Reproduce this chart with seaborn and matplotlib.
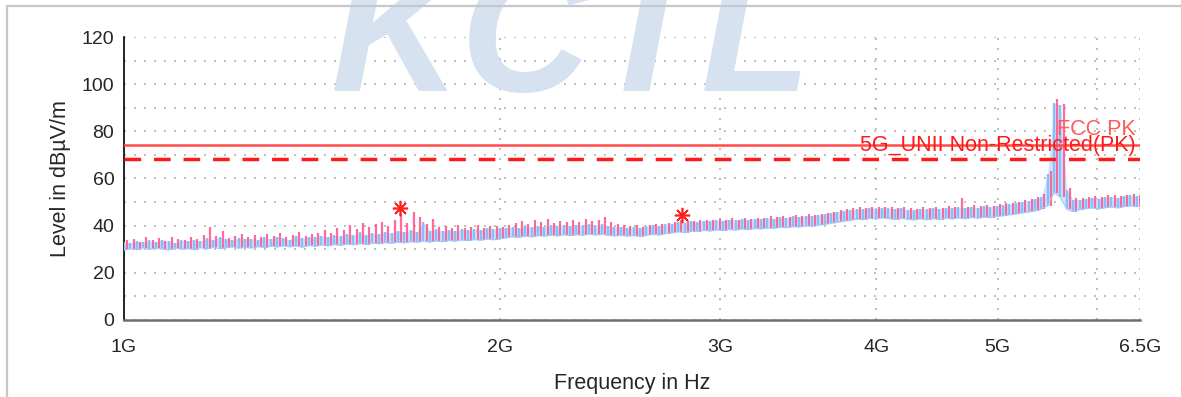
import numpy as np
import matplotlib
matplotlib.use("Agg")
import matplotlib.pyplot as plt
import seaborn as sns
from matplotlib.lines import Line2D

# ----------------------------------------
# data (dBuV/m), 160 bins on a log sweep 1G..6.5G
# ----------------------------------------
f_start = 1.0e9
f_stop = 6.5e9

avg_lo = [
    29.5, 30.2, 29.8, 30.6, 29.9, 30.4, 30.1, 29.7, 30.5, 30.0,
    30.3, 29.8, 30.7, 30.1, 30.9, 30.2, 30.6, 31.0, 30.4, 30.8,
    30.5, 31.1, 30.7, 31.3, 30.9, 31.5, 31.0, 31.4, 30.8, 31.6,
    31.2, 31.8, 31.4, 32.0, 31.6, 32.2, 31.9, 32.4, 32.0, 32.6,
    32.3, 32.8, 32.5, 33.0, 32.7, 33.2, 32.9, 33.4, 33.0, 33.5,
    33.2, 33.7, 33.4, 33.9, 33.6, 34.1, 33.8, 34.3, 34.0, 34.5,
    34.8, 35.3, 35.0, 35.6, 35.2, 35.8, 35.5, 36.0, 35.6, 36.1,
    35.8, 36.2, 35.9, 36.4, 36.0, 36.3, 35.9, 35.6, 35.9, 35.5,
    35.8, 35.4, 35.9, 36.3, 36.0, 36.6, 36.9, 37.4, 37.0, 37.6,
    37.5, 38.0, 37.7, 38.2, 37.9, 38.4, 38.1, 38.6, 38.3, 38.8,
    38.6, 39.0, 38.8, 39.3, 39.1, 39.6, 39.4, 39.9, 39.7, 40.2,
    40.5, 41.0, 41.4, 41.9, 42.2, 42.8, 42.5, 43.1, 42.9, 43.3,
    43.0, 42.6, 43.1, 42.7, 42.4, 42.9, 42.5, 43.0, 42.6, 43.2,
    42.8, 43.3, 42.9, 43.5, 43.1, 43.6, 43.4, 43.9, 44.2, 44.6,
    44.9, 45.4, 45.8, 46.3, 47.0, 48.5, 54.0, 52.0, 47.0, 46.0,
    46.8, 47.2, 47.5, 47.1, 47.6, 47.9, 47.5, 48.1, 48.4, 48.0,
]

avg_hi = [
    33.2, 32.8, 33.6, 32.9, 33.8, 33.1, 34.0, 33.3, 32.7, 33.9,
    33.5, 34.1, 33.4, 34.6, 33.9, 35.2, 34.3, 33.8, 34.9, 34.2,
    34.5, 33.9, 35.0, 34.3, 35.4, 34.6, 34.1, 35.6, 34.8, 35.2,
    35.1, 35.8, 35.3, 36.0, 35.5, 36.4, 35.9, 37.2, 36.1, 36.8,
    36.5, 37.4, 36.8, 37.9, 37.2, 38.1, 37.5, 41.5, 37.8, 38.4,
    37.6, 38.2, 37.8, 38.5, 38.0, 38.7, 38.3, 38.9, 38.6, 39.2,
    38.9, 39.5, 39.2, 39.8, 39.4, 40.0, 39.6, 40.2, 39.8, 40.3,
    40.0, 40.4, 40.1, 40.6, 40.2, 40.5, 39.8, 39.4, 39.6, 39.2,
    39.5, 39.1, 39.7, 40.1, 39.8, 40.6, 40.9, 41.6, 41.2, 41.8,
    41.6, 42.1, 41.8, 42.4, 42.0, 42.6, 42.2, 42.8, 42.5, 43.0,
    42.8, 43.3, 43.0, 43.6, 43.3, 43.9, 43.7, 44.2, 44.0, 44.6,
    44.9, 45.5, 45.9, 46.4, 46.6, 47.2, 46.9, 47.5, 47.2, 47.6,
    47.3, 47.0, 47.5, 46.8, 46.6, 47.2, 46.9, 47.4, 47.0, 47.6,
    47.3, 47.8, 47.4, 48.0, 47.6, 48.2, 47.9, 48.5, 48.8, 49.2,
    49.6, 50.1, 50.6, 51.2, 52.0, 62.0, 92.0, 91.0, 55.0, 51.0,
    51.0, 51.4, 51.8, 51.5, 52.0, 52.3, 51.9, 52.6, 52.9, 52.5,
]

pk_hi = [
    33.8, 34.5, 33.2, 35.1, 34.0, 34.8, 33.6, 35.4, 34.2, 33.9,
    35.0, 34.2, 36.1, 39.5, 35.6, 37.8, 34.9, 35.8, 36.4, 35.1,
    35.9, 35.2, 36.3, 35.6, 36.8, 35.4, 36.0, 37.1, 35.8, 36.5,
    37.0, 38.2, 36.9, 39.1, 38.0, 40.3, 38.6, 41.2, 39.4, 40.8,
    41.5, 39.8, 42.6, 45.0, 41.0, 45.8, 43.8, 40.6, 42.9, 39.5,
    39.8, 38.9, 40.1, 39.0, 39.6, 40.4, 39.2, 39.8, 40.0, 39.5,
    40.2, 41.0, 41.8, 40.9, 42.4, 41.5, 42.8, 41.2, 42.1, 41.6,
    42.3, 41.4, 43.0, 41.8, 42.6, 43.7, 41.5, 40.6, 40.2, 39.9,
    40.1, 39.6, 40.3, 40.8, 40.5, 41.2, 41.6, 42.6, 42.0, 41.9,
    42.2, 42.5, 42.3, 42.9, 42.4, 43.1, 42.6, 43.2, 42.9, 43.4,
    43.3, 43.9, 43.5, 44.1, 43.8, 44.5, 44.2, 44.8, 44.4, 45.1,
    45.4, 46.0, 46.5, 47.0, 47.3, 47.8, 47.4, 48.1, 47.8, 48.0,
    47.9, 47.5, 48.1, 47.3, 47.1, 47.8, 47.4, 48.0, 47.6, 48.2,
    47.9, 51.7, 48.0, 48.6, 48.2, 48.9, 48.5, 49.1, 49.4, 49.8,
    50.2, 50.8, 51.3, 52.0, 53.5, 63.0, 93.5, 91.8, 56.0, 51.8,
    51.6, 52.1, 52.6, 52.0, 52.8, 53.0, 52.5, 53.2, 53.4, 53.0,
]

# limit lines
fcc_pk = 74.0
unii_pk = 68.2

# marker (peak search results)
marker_freq = [1.664e9, 2.798e9]
marker_level = [47.5, 44.5]

x_ticks = [1e9, 2e9, 3e9, 4e9, 5e9, 6e9, 6.5e9]
x_ticklabels = ["1G", "2G", "3G", "4G", "5G", "", "6.5G"]

# ----------------------------------------
# figure
# ----------------------------------------
sns.set_style("white")
plt.rcParams["font.family"] = ["Liberation Sans", "DejaVu Sans"]

fig = plt.figure(figsize=(11.81, 3.97), dpi=100)
ax = fig.add_axes([0.105, 0.194, 0.8603, 0.7128])

n = len(avg_lo)
freq2 = np.geomspace(f_start, f_stop, 2 * n)
freq = freq2[0::2]       # average trace sample points
freq_pk = freq2[1::2]    # peak trace sample points (offset sweep)

# average trace: light band
ax.fill_between(freq, avg_lo, avg_hi, color="#c4e1ff", alpha=0.85, lw=0, zorder=2)
# peak trace: vertical strokes
ax.vlines(freq_pk, avg_lo, pk_hi, color="#ff5a8f", lw=1.6, alpha=0.9, zorder=3)
# average trace strokes + outline
ax.vlines(freq, avg_lo, avg_hi, color="#86c0fb", lw=1.7, zorder=4)
sns.lineplot(x=freq, y=avg_lo, ax=ax, color="#9ccbfb", lw=0.8, sort=False,
             estimator=None, zorder=4)

# limits
ax.axhline(fcc_pk, color="#ff4a4a", lw=1.8, zorder=5)
ax.axhline(unii_pk, color="#ff1a1a", lw=2.5, ls=(0, (4.8, 3.7)), zorder=5)
ax.text(6.45e9, 80.8, "FCC PK", color="#ff5c5c", fontsize=15.5,
        ha="right", va="center", zorder=6)
ax.text(6.45e9, 74.0, "5G_UNII Non-Restricted(PK)", color="#ff1a1a",
        fontsize=15.5, ha="right", va="center", zorder=6)

# markers
ax.plot(marker_freq, marker_level, ls="none", marker=(8, 2, 0), ms=11,
        mec="#ff2020", mew=1.2, zorder=7)

# axes
ax.set_xscale("log")
ax.set_xlim(f_start, f_stop)
ax.set_ylim(0, 120)
ax.set_xticks(x_ticks)
ax.set_xticklabels(x_ticklabels)
ax.xaxis.set_minor_locator(matplotlib.ticker.NullLocator())
ax.set_yticks(range(0, 121, 20))
ax.set_yticks(range(10, 120, 20), minor=True)

grid_kw = dict(color="#b4b4b4", lw=1.2, ls=(0, (1.2, 4.8)))
ax.grid(True, which="both", axis="y", **grid_kw)
ax.grid(True, which="major", axis="x", **grid_kw)
ax.set_axisbelow(True)

for side in ["top", "right"]:
    ax.spines[side].set_visible(False)
ax.spines["left"].set_color("black")
ax.spines["left"].set_linewidth(1.2)
ax.spines["bottom"].set_color("#6e6e6e")
ax.spines["bottom"].set_linewidth(1.8)

ax.tick_params(axis="both", which="both", direction="inout", length=8,
               width=1.1, color="black", labelsize=14)
ax.tick_params(axis="x", pad=10)
ax.tick_params(axis="y", pad=3)

ax.set_xlabel("Frequency in Hz", fontsize=15.5, labelpad=12)
ax.set_ylabel("Level in dBµV/m", fontsize=15.5, labelpad=8)

# watermark + frame
fig.text(0.28, 0.675, "KCTL", fontsize=130, fontweight="bold", style="italic",
         color="#d6e2f0", ha="left", va="bottom", zorder=1)
fig.add_artist(Line2D([0.006, 0.006], [0, 0.985], color="#c8c8c8", lw=1.6))
fig.add_artist(Line2D([0.006, 1.0], [0.985, 0.985], color="#c8c8c8", lw=1.6))

plt.savefig("out.png", dpi=100)
plt.close()
